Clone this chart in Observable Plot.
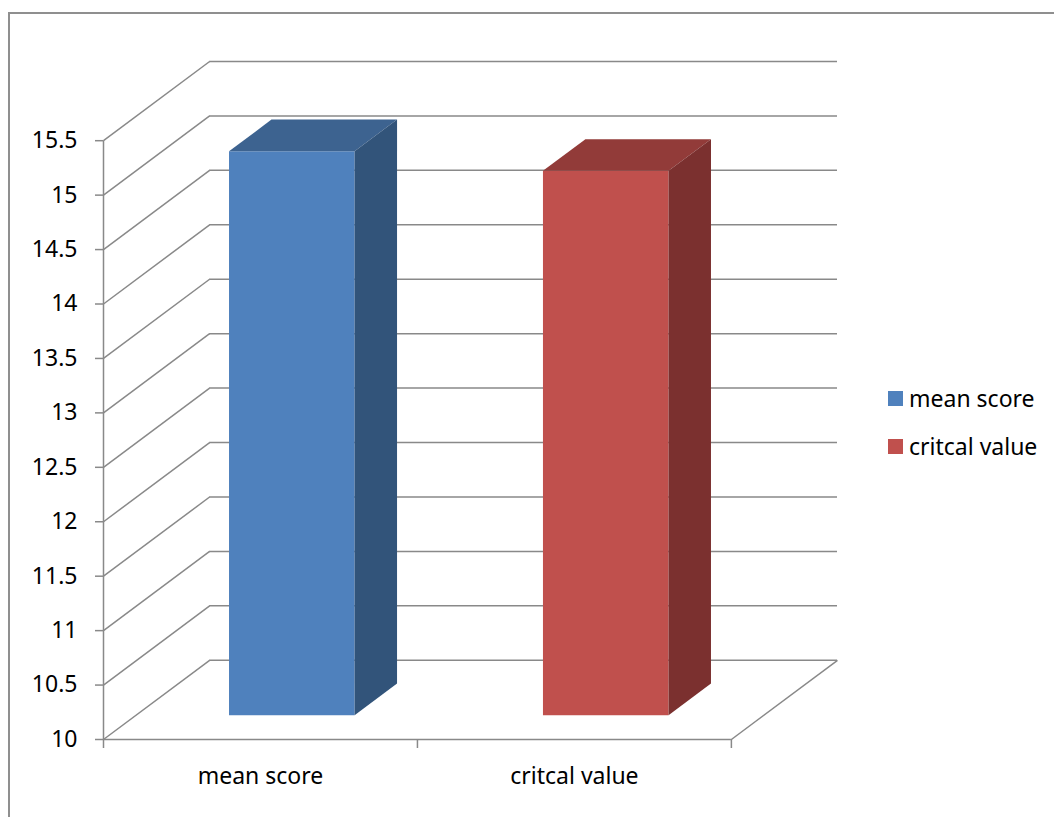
<!DOCTYPE html>
<html>
<head>
<meta charset="utf-8">
<script src="https://cdn.jsdelivr.net/npm/d3@7"></script>
<script src="https://cdn.jsdelivr.net/npm/@observablehq/plot@0.6"></script>
<style>
  html, body { margin: 0; padding: 0; background: #fff; overflow: hidden; }
  #wrap { position: relative; width: 1054px; height: 817px; overflow: hidden; font-family: "Noto Sans", sans-serif; }
  #border { position: absolute; left: 8px; top: 12px; width: 1200px; height: 1000px; border: 2px solid #8f8f8f; box-sizing: border-box; pointer-events: none; }
  #chart { position: absolute; left: 0; top: 0; }
  .legend { position: absolute; left: 888px; font-size: 23px; color: #000; display: flex; align-items: center; white-space: nowrap; }
  .legend span.sw { display: inline-block; width: 15px; height: 15px; margin-right: 6px; }
</style>
</head>
<body>
<div id="wrap">
  <div id="chart"></div>
  <div id="border"></div>
  <div id="legend"></div>
</div>
<script>
// ---- data ----
const categories = ["mean score", "critcal value"];
const values = [15.18, 15.0];
const frontColors = ["#4F81BD", "#C0504D"];
const topColors = ["#3D6390", "#923B39"];
const sideColors = ["#32547A", "#7B302F"];
const yTicks = [10, 10.5, 11, 11.5, 12, 12.5, 13, 13.5, 14, 14.5, 15, 15.5];
const yTickLabels = ["10", "10.5", "11", "11.5", "12", "12.5", "13", "13.5", "14", "14.5", "15", "15.5"];

// ---- 3D depth (expressed in data units of the linear scales) ----
const DX = 0.338;   // depth shift along x (category units)
const DY = 0.7274;  // depth shift along y (value units)
const BAR_FRONT = 0.3, BAR_BACK = 0.7; // bar depth position (fraction of floor depth)
const BAR_W = 0.4;  // bar width in category units

const gridColor = "#898989";
const n = categories.length;

const bars = categories.map((c, i) => ({
  cat: c, i, v: values[i],
  xl: i + (1 - BAR_W) / 2 + BAR_FRONT * DX,
  xr: i + (1 + BAR_W) / 2 + BAR_FRONT * DX
}));
const dd = (BAR_BACK - BAR_FRONT);

const marks = [
  // back wall gridlines
  Plot.ruleY(yTicks, {y: d => d + DY, x1: DX, x2: n + DX, stroke: gridColor, strokeWidth: 1.5}),
  // left wall diagonals
  Plot.link(yTicks, {x1: 0, y1: d => d, x2: DX, y2: d => d + DY, stroke: gridColor, strokeWidth: 1.5}),
  // floor right edge
  Plot.link([yTicks[0]], {x1: n, y1: d => d, x2: n + DX, y2: d => d + DY, stroke: gridColor, strokeWidth: 1.5}),
  // front value axis line & category axis line
  Plot.ruleX([0], {y1: yTicks[0], y2: yTicks[yTicks.length - 1], stroke: gridColor, strokeWidth: 1.5}),
  Plot.ruleY([yTicks[0]], {x1: 0, x2: n, stroke: gridColor, strokeWidth: 1.5}),
  Plot.axisY({ticks: yTicks, tickFormat: (d) => yTickLabels[yTicks.indexOf(d)], tickSize: 8, tickPadding: 18,
    stroke: gridColor, strokeWidth: 1.5, fill: "#000", fontSize: 23, label: null}),
  Plot.axisX({ticks: d3.range(n + 1), tickFormat: () => "", tickSize: 9, stroke: gridColor, strokeWidth: 1.5, label: null}),
  Plot.text(categories, {x: (d, i) => i + 0.5, y: yTicks[0], dy: 37, text: d => d, fill: "#000", fontSize: 23})
];

bars.forEach(b => {
  const base = yTicks[0];
  // front face
  marks.push(Plot.rect([b], {x1: "xl", x2: "xr", y1: base + BAR_FRONT * DY, y2: b.v + BAR_FRONT * DY, fill: frontColors[b.i]}));
  // top face
  marks.push(Plot.areaX([
    {y: b.v + BAR_FRONT * DY, x1: b.xl, x2: b.xr},
    {y: b.v + BAR_BACK * DY, x1: b.xl + dd * DX, x2: b.xr + dd * DX}
  ], {y: "y", x1: "x1", x2: "x2", fill: topColors[b.i], curve: "linear"}));
  // side face
  marks.push(Plot.areaY([
    {x: b.xr, y1: base + BAR_FRONT * DY, y2: b.v + BAR_FRONT * DY},
    {x: b.xr + dd * DX, y1: base + BAR_BACK * DY, y2: b.v + BAR_BACK * DY}
  ], {x: "x", y1: "y1", y2: "y2", fill: sideColors[b.i], curve: "linear"}));
});

const chart = Plot.plot({
  width: 1054,
  height: 817,
  marginLeft: 103,
  marginRight: 217,
  marginTop: 61,
  marginBottom: 78,
  style: {fontFamily: "'Noto Sans', sans-serif", fontSize: "23px", background: "transparent", color: "#000"},
  x: {type: "linear", domain: [0, n + DX]},
  y: {type: "linear", domain: [yTicks[0], yTicks[yTicks.length - 1] + DY]},
  marks
});
document.getElementById("chart").appendChild(chart);

// legend
const legend = document.getElementById("legend");
const legendTops = [382, 430];
categories.forEach((c, i) => {
  const row = document.createElement("div");
  row.className = "legend";
  row.style.top = legendTops[i] + "px";
  row.innerHTML = `<span class="sw" style="background:${frontColors[i]}"></span><span>${c}</span>`;
  legend.appendChild(row);
});
</script>
</body>
</html>
